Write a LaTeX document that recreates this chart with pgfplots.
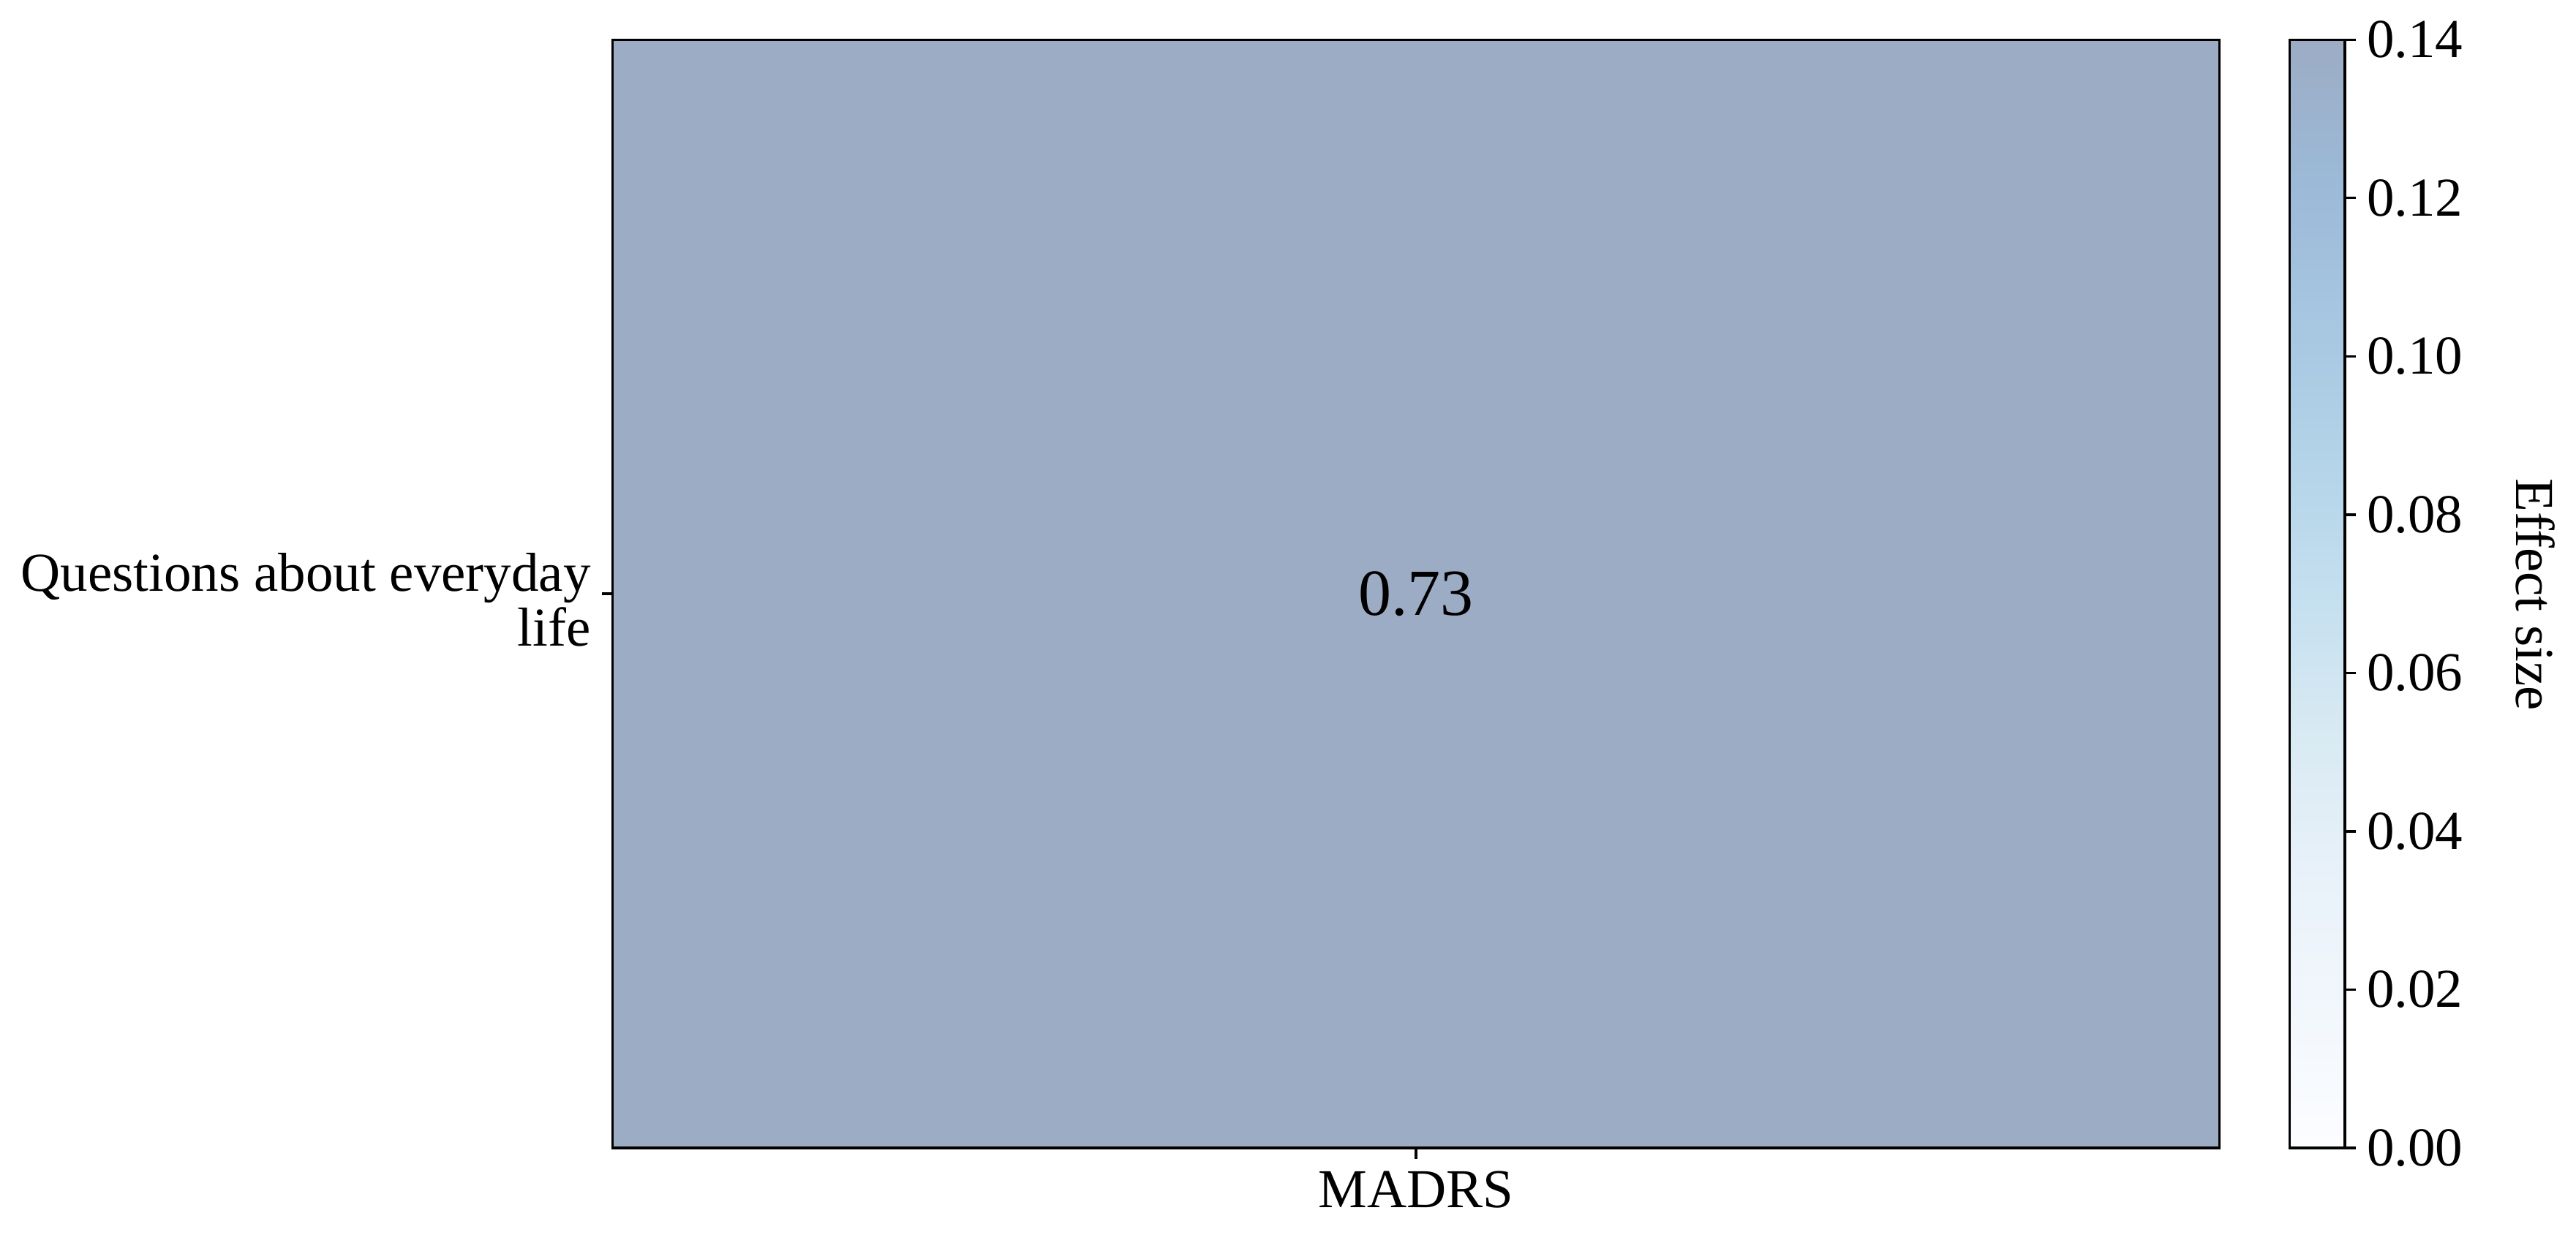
\documentclass[border=0pt]{standalone}
\usepackage{fontspec}
\setmainfont{Liberation Serif}
\usepackage{pgfplots}
\pgfplotsset{compat=1.18}
\definecolor{cellc}{RGB}{156,172,196}
\pgfplotsset{
  colormap={blues}{rgb255=(252,253,255) rgb255=(242,247,252) rgb255=(232,241,249) rgb255=(216,234,243) rgb255=(196,223,239) rgb255=(179,211,232) rgb255=(166,198,225) rgb255=(156,185,215) rgb255=(156,172,196)},
}
\begin{document}
\begin{tikzpicture}
\path[use as bounding box] (0,0) rectangle (845pt,407.7pt);
\begin{axis}[
  at={(201pt,31pt)}, anchor=south west,
  width=527pt, height=363.7pt, scale only axis,
  xmin=-0.5, xmax=0.5, ymin=-0.5, ymax=0.5,
  xtick={0}, xticklabels={MADRS},
  ytick={0}, yticklabels={{Questions about everyday\\life}},
  yticklabel style={align=right, font=\fontsize{18}{18}\selectfont, inner sep=0pt, xshift=-3.5pt, yshift=-1.9pt},
  xticklabel style={font=\fontsize{18}{18}\selectfont, inner sep=0pt, yshift=-4pt},
  tick align=outside, major tick length=3.5pt,
  tick style={line width=0.8pt, black},
  axis line style={line width=0.8pt},
  xtick pos=bottom, ytick pos=left,
  axis on top,
]
\addplot[fill=cellc, draw=none] coordinates {(-0.5,-0.5) (0.5,-0.5) (0.5,0.5) (-0.5,0.5)} -- cycle;
\node[font=\fontsize{21.6}{21.6}\selectfont] at (axis cs:0,0) {0.73};
\end{axis}
\begin{axis}[
  at={(751pt,31pt)}, anchor=south west,
  width=18.2pt, height=363.7pt, scale only axis,
  xmin=0, xmax=1, ymin=0, ymax=0.14,
  xtick=\empty,
  ytick={0,0.02,0.04,0.06,0.08,0.10,0.12,0.14},
  ytick pos=right, yticklabel pos=right,
  yticklabel style={font=\fontsize{18}{18}\selectfont, inner sep=0pt, xshift=3.5pt, /pgf/number format/.cd, fixed, fixed zerofill, precision=2, assume math mode=true},
  major tick length=3.5pt, tick align=outside,
  tick style={line width=0.8pt, black},
  axis line style={line width=0.8pt},
  point meta min=0, point meta max=0.14,
  axis on top,
]
\addplot[surf, shader=interp, point meta=y] coordinates {
(0,0) (1,0)

(0,0.0175) (1,0.0175)

(0,0.035) (1,0.035)

(0,0.0525) (1,0.0525)

(0,0.07) (1,0.07)

(0,0.0875) (1,0.0875)

(0,0.105) (1,0.105)

(0,0.1225) (1,0.1225)

(0,0.14) (1,0.14)
};
\end{axis}
\node[rotate=-90, font=\fontsize{18}{18}\selectfont] at (831.6pt,212.6pt) {Effect size};
\end{tikzpicture}
\end{document}
